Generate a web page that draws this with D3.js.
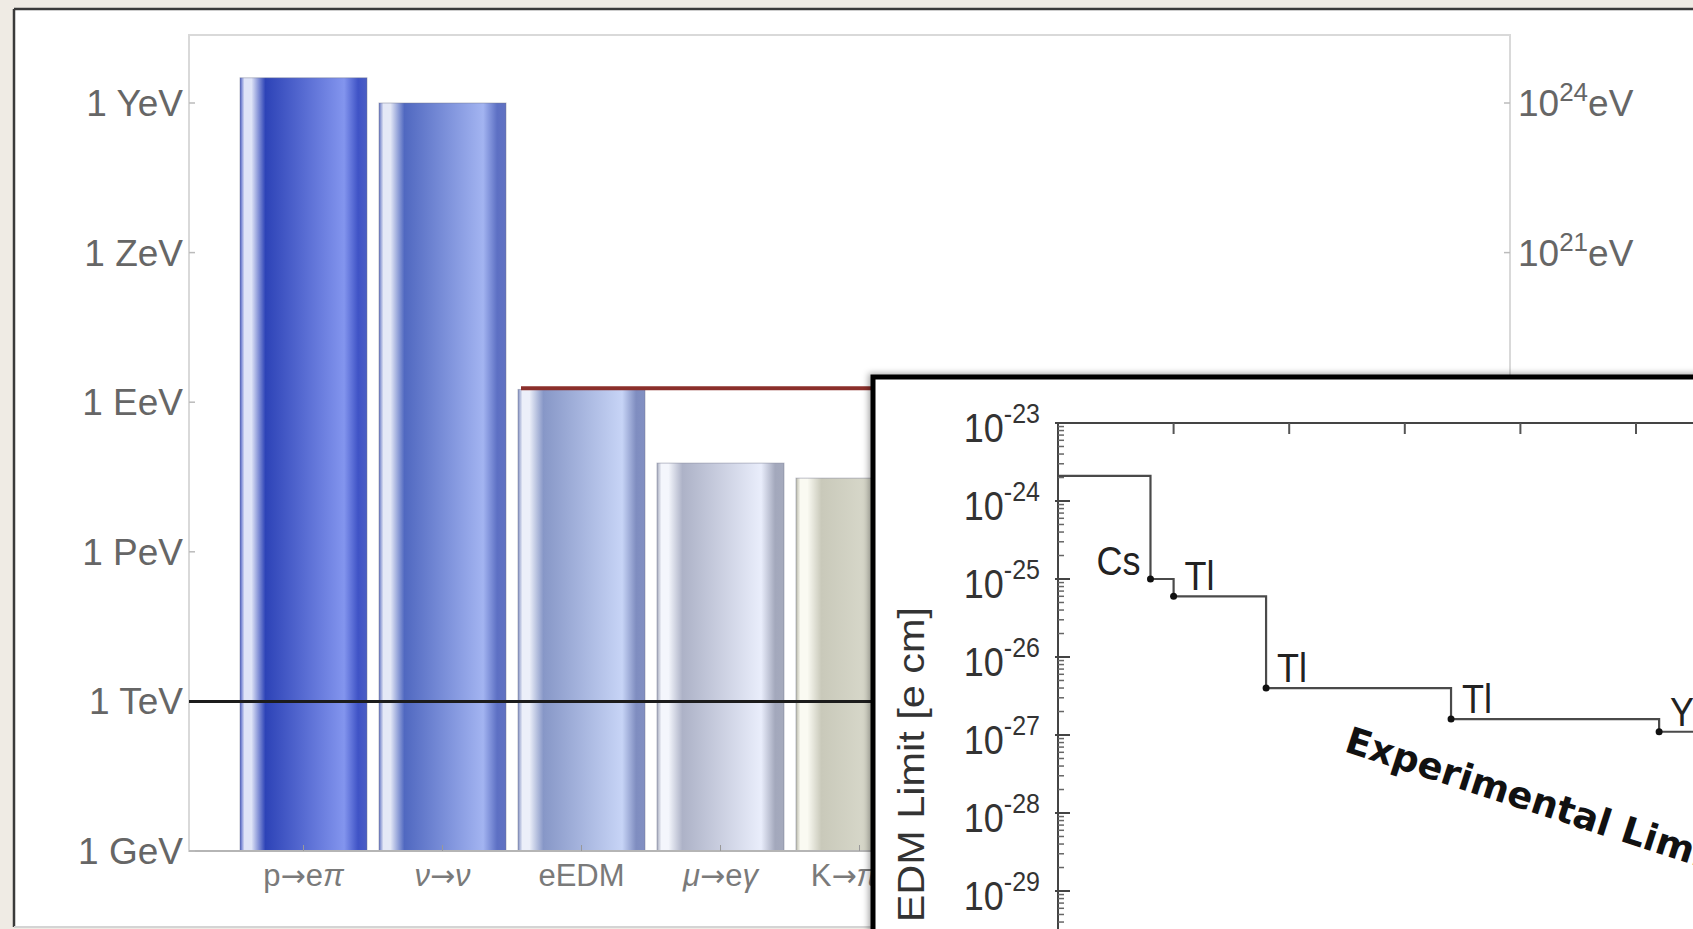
<!DOCTYPE html>
<html><head><meta charset="utf-8">
<script src="https://cdn.jsdelivr.net/npm/d3@7"></script>
<style>html,body{margin:0;padding:0;background:#efebe4;overflow:hidden}</style>
</head><body>
<svg id="c" width="1693" height="929"></svg>
<script>
// ---------- data: main chart ----------
const categories = ["p→eπ", "ν→ν", "eEDM", "μ→eγ", "K→πνν"];
const scaleEV = [3.2e24, 1.0e24, 1.8e18, 6.0e16, 3.0e16];   // energy scale probed (eV)
const eedmReach = 1.9e18;                                   // red line
const tevLine = 1e12;                                       // black 1 TeV line
const leftTicks = [1e9, 1e12, 1e15, 1e18, 1e21, 1e24];
const leftTickLabels = ["1 GeV", "1 TeV", "1 PeV", "1 EeV", "1 ZeV", "1 YeV"];
const rightTicks = [1e21, 1e24];
const rightTickExp = ["21", "24"];

// ---------- data: inset (electron EDM limit history) ----------
const edmExperiments = ["", "Cs", "Tl", "Tl", "Tl", "YbF"];
const edmYears = [1985, 1989, 1990, 1994, 2002, 2011];
const edmLimits = [2.1e-24, 1.0e-25, 6.0e-26, 4.0e-27, 1.6e-27, 1.1e-27];
const edmTicks = [1e-23, 1e-24, 1e-25, 1e-26, 1e-27, 1e-28, 1e-29, 1e-30];
const edmTickExp = ["-23", "-24", "-25", "-26", "-27", "-28", "-29", "-30"];
const yearTicks = [1990, 1995, 2000, 2005, 2010, 2015];
const edmAxisTitle = "EDM Limit [e cm]";
const edmNote = "Experimental Limit";

// ---------- styles ----------
const palettes = [
  {edge:"#4b5ec4", hi:"#dfe4f7", dark:"#2d43b7", light:"#8395ee", rim:"#3f53c6"},
  {edge:"#6172c2", hi:"#e4e8f6", dark:"#5068c0", light:"#a3b4f1", rim:"#5d70c4"},
  {edge:"#8290c2", hi:"#eceff9", dark:"#8797c7", light:"#c7d4f6", rim:"#7f8dc0"},
  {edge:"#a5aabd", hi:"#f4f6fc", dark:"#adb2c7", light:"#e9edfb", rim:"#a3a8bc"},
  {edge:"#b9b9aa", hi:"#fafaf2", dark:"#c9c9ba", light:"#e2e3d6", rim:"#b5b5a5"}
];
const FONT = "'Liberation Sans', Arial, Helvetica, sans-serif";

const svg = d3.select("#c");
const defs = svg.append("defs");

// outer slide panel
svg.append("rect").attr("x", 0).attr("y", 0).attr("width", 1693).attr("height", 929).attr("fill", "#efebe4");
svg.append("rect").attr("x", 14).attr("y", 9).attr("width", 1700).attr("height", 918).attr("fill", "#ffffff");
svg.append("line").attr("x1", 14).attr("x2", 1693).attr("y1", 9).attr("y2", 9).attr("stroke", "#3a3a3a").attr("stroke-width", 2.5);
svg.append("line").attr("x1", 14).attr("x2", 14).attr("y1", 9).attr("y2", 927).attr("stroke", "#3a3a3a").attr("stroke-width", 2.5);
svg.append("line").attr("x1", 14).attr("x2", 1693).attr("y1", 927).attr("y2", 927).attr("stroke", "#d4d4d4").attr("stroke-width", 2);

// ---------- main chart ----------
const M = {left: 189, right: 1510, top: 35, bottom: 851};
const y = d3.scaleLog().domain([1e9, 1e24]).range([M.bottom, 103]);
const pitch = 139;
const x = d3.scaleBand().domain(categories)
  .range([234, 234 + categories.length * pitch])
  .paddingInner(12 / pitch).paddingOuter(6 / pitch);

// frame
svg.append("rect").attr("x", M.left).attr("y", M.top).attr("width", M.right - M.left).attr("height", M.bottom - M.top)
  .attr("fill", "none").attr("stroke", "#d9d9d9").attr("stroke-width", 2);

// bars with cylinder gradients
categories.forEach((c, i) => {
  const p = palettes[i];
  const g = defs.append("linearGradient").attr("id", "bg" + i).attr("x1", "0").attr("x2", "1").attr("y1", "0").attr("y2", "0");
  [[0, p.edge], [0.035, p.hi], [0.09, p.hi], [0.2, p.dark], [0.82, p.light], [0.93, p.rim], [1, p.edge]]
    .forEach(s => g.append("stop").attr("offset", s[0]).attr("stop-color", s[1]));
});
svg.append("g").selectAll("rect").data(categories).join("rect")
  .attr("x", d => x(d))
  .attr("y", (d, i) => y(scaleEV[i]))
  .attr("width", x.bandwidth())
  .attr("height", (d, i) => M.bottom - y(scaleEV[i]))
  .attr("fill", (d, i) => `url(#bg${i})`)
  .attr("stroke", "rgba(110,115,140,0.45)").attr("stroke-width", 1);

// bottom axis line + ticks
svg.append("line").attr("x1", M.left).attr("x2", M.right).attr("y1", M.bottom).attr("y2", M.bottom)
  .attr("stroke", "#b5b5b5").attr("stroke-width", 2);
svg.append("g").selectAll("line").data(categories).join("line")
  .attr("x1", d => x(d) + x.bandwidth() / 2).attr("x2", d => x(d) + x.bandwidth() / 2)
  .attr("y1", M.bottom).attr("y2", M.bottom - 6).attr("stroke", "#999").attr("stroke-width", 1);

// category labels
const italicChars = "πνμγ";
svg.append("g").selectAll("text").data(categories).join("text")
  .attr("x", d => x(d) + x.bandwidth() / 2).attr("y", M.bottom + 35)
  .attr("text-anchor", "middle").attr("font-family", FONT).attr("font-size", 31).attr("fill", "#7a7a7a")
  .each(function(d) {
    const t = d3.select(this);
    Array.from(d).forEach(ch => {
      const s = t.append("tspan").text(ch).attr("font-style", italicChars.includes(ch) ? "italic" : "normal");
      if (ch === "→") s.attr("font-family", "'DejaVu Sans', sans-serif").attr("font-size", 30);
    });
  });

// left axis ticks + labels
svg.append("g").selectAll("line").data(leftTicks).join("line")
  .attr("x1", M.left).attr("x2", M.left + 6).attr("y1", d => y(d)).attr("y2", d => y(d))
  .attr("stroke", "#bbb").attr("stroke-width", 1.5);
svg.append("g").selectAll("text").data(leftTicks).join("text")
  .attr("x", M.left - 6).attr("y", d => y(d) + 13)
  .attr("text-anchor", "end").attr("font-family", FONT).attr("font-size", 37).attr("fill", "#666")
  .text((d, i) => leftTickLabels[i]);

// right axis ticks + labels
svg.append("g").selectAll("line").data(rightTicks).join("line")
  .attr("x1", M.right - 6).attr("x2", M.right).attr("y1", d => y(d)).attr("y2", d => y(d))
  .attr("stroke", "#bbb").attr("stroke-width", 1.5);
const rl = svg.append("g").selectAll("text").data(rightTicks).join("text")
  .attr("x", M.right + 8).attr("y", d => y(d) + 13)
  .attr("font-family", FONT).attr("font-size", 37).attr("fill", "#666");
rl.append("tspan").text("10");
rl.append("tspan").attr("dy", -15).attr("font-size", 26).text((d, i) => rightTickExp[i]);
rl.append("tspan").attr("dy", 15).text("eV");

// 1 TeV line and eEDM reach line
svg.append("line").attr("x1", M.left).attr("x2", M.right).attr("y1", y(tevLine)).attr("y2", y(tevLine))
  .attr("stroke", "#1c1c1c").attr("stroke-width", 3);
svg.append("line").attr("x1", x("eEDM") + 3).attr("x2", M.right).attr("y1", y(eedmReach)).attr("y2", y(eedmReach))
  .attr("stroke", "#8b2f2b").attr("stroke-width", 4);

// ---------- inset ----------
const f = defs.append("filter").attr("id", "sh").attr("x", "-5%").attr("y", "-5%").attr("width", "120%").attr("height", "120%");
f.append("feDropShadow").attr("dx", -2).attr("dy", -1).attr("stdDeviation", 3).attr("flood-color", "#000").attr("flood-opacity", 0.35);
svg.append("rect").attr("x", 873).attr("y", 377).attr("width", 900).attr("height", 700)
  .attr("fill", "#fff").attr("stroke", "#000").attr("stroke-width", 5).attr("filter", "url(#sh)");

const I = {left: 1058, top: 423};
const yi = d3.scaleLog().domain([1e-23, 1e-29]).range([I.top, 891]);
const pxPerYear = 23.12;
const xi = d3.scaleLinear().domain([1985, 2015]).range([I.left, I.left + 30 * pxPerYear]);

const inset = svg.append("g");
inset.append("line").attr("x1", I.left).attr("x2", 1700).attr("y1", I.top).attr("y2", I.top).attr("stroke", "#444").attr("stroke-width", 2);
inset.append("line").attr("x1", I.left).attr("x2", I.left).attr("y1", I.top).attr("y2", 940).attr("stroke", "#444").attr("stroke-width", 2);

inset.append("g").selectAll("line").data(yearTicks).join("line")
  .attr("x1", d => xi(d)).attr("x2", d => xi(d)).attr("y1", I.top).attr("y2", I.top + 11)
  .attr("stroke", "#555").attr("stroke-width", 2);

const minor = [];
edmTicks.forEach(t => { for (let k = 2; k <= 9; k++) minor.push(t * k); });
inset.append("g").selectAll("line").data(minor.filter(v => v <= 1e-23)).join("line")
  .attr("x1", I.left).attr("x2", I.left + 6).attr("y1", d => yi(d)).attr("y2", d => yi(d))
  .attr("stroke", "#666").attr("stroke-width", 1.5);
inset.append("g").selectAll("line").data(edmTicks).join("line")
  .attr("x1", I.left - 3).attr("x2", I.left + 12).attr("y1", d => yi(d)).attr("y2", d => yi(d))
  .attr("stroke", "#444").attr("stroke-width", 2);

const tl = inset.append("g").selectAll("g").data(edmTicks).join("g")
  .attr("transform", d => `translate(${I.left - 18},${yi(d) + 19}) scale(1,1.12)`)
  .append("text").attr("text-anchor", "end").attr("font-family", FONT).attr("font-size", 36).attr("fill", "#333");
tl.append("tspan").text("10");
tl.append("tspan").attr("dy", -17).attr("font-size", 25).text((d, i) => edmTickExp[i]);

inset.append("text")
  .attr("transform", `translate(924,607) rotate(-90) scale(1.12,1)`)
  .attr("text-anchor", "end").attr("font-family", FONT).attr("font-size", 37).attr("fill", "#333")
  .text(edmAxisTitle);

const pts = edmYears.map((yr, i) => [xi(yr), yi(edmLimits[i])]);
pts.push([xi(xi.domain()[1]), yi(edmLimits[edmLimits.length - 1])]);
inset.append("path").attr("d", d3.line().curve(d3.curveStepAfter)(pts))
  .attr("fill", "none").attr("stroke", "#4a4a4a").attr("stroke-width", 2.2);

inset.append("g").selectAll("circle").data(edmYears.slice(1)).join("circle")
  .attr("cx", d => xi(d)).attr("cy", (d, i) => yi(edmLimits[i + 1])).attr("r", 3.5).attr("fill", "#111");

inset.append("g").selectAll("g").data(edmYears.slice(1)).join("g")
  .attr("transform", (d, i) => {
    const first = i === 0;
    return `translate(${xi(d) + (first ? -10 : 11)},${yi(edmLimits[i + 1]) - (first ? 4 : 6)}) scale(1,1.12)`;
  })
  .append("text")
  .attr("text-anchor", (d, i) => i === 0 ? "end" : "start")
  .attr("font-family", FONT).attr("font-size", 36).attr("fill", "#222")
  .text((d, i) => edmExperiments[i + 1]);

inset.append("text")
  .attr("transform", "translate(1343,751) rotate(18)")
  .attr("font-family", "'DejaVu Sans', Verdana, sans-serif").attr("font-weight", "bold")
  .attr("font-size", 37).attr("fill", "#111")
  .text(edmNote);
</script>
</body></html>
